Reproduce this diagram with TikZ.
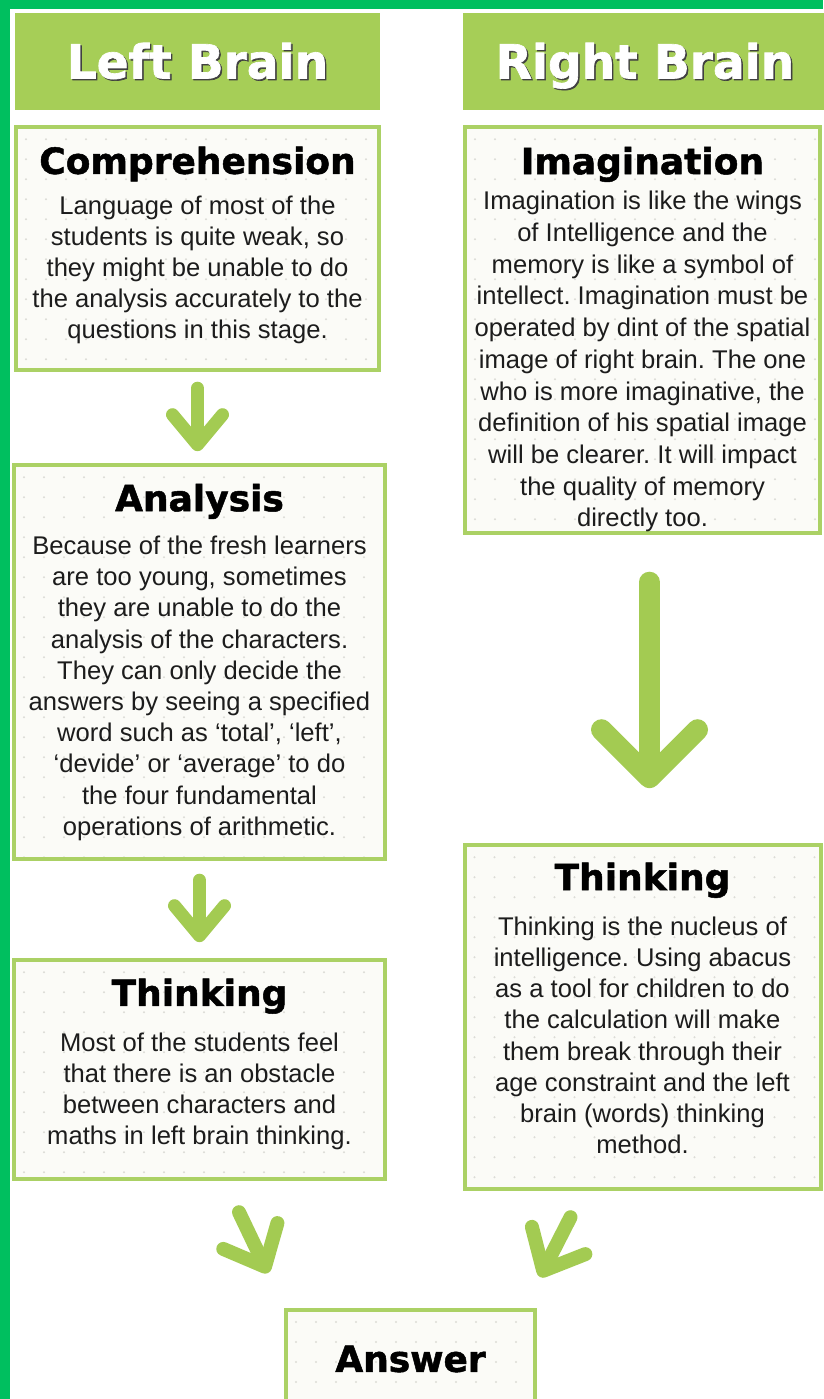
\documentclass[tikz,border=0pt]{standalone}
\usepackage{fontspec}
\usepackage{xcolor}
\setmainfont{Liberation Sans}
\newfontfamily\heavyfont{DejaVu Sans}[BoldFeatures={FakeBold=1.4}]
\usetikzlibrary{arrows.meta, positioning}

\definecolor{framegreen}{HTML}{00BF5F}
\definecolor{headgreen}{HTML}{A6CE57}
\definecolor{boxgreen}{HTML}{ABD165}
\definecolor{arrowgreen}{HTML}{A3CB52}
\definecolor{paper}{HTML}{FBFBF7}
\definecolor{dotgray}{HTML}{DCDCD6}
\definecolor{ink}{HTML}{1C1C1C}

% #1 = extra height above the title (pushes the text block down)
\newcommand{\stagetitle}[2][0pt]{{\heavyfont\bfseries\fontsize{36}{40}\selectfont\color{black}\rule{0pt}{#1}#2}}
% extra depth below the last line (pushes the text block up)
\newcommand{\stagetail}[1]{\rule[-#1]{0pt}{0pt}}
\newcommand{\brainlabel}[1]{\makebox[0pt][l]{\hspace{1.5pt}\raisebox{-1.5pt}{\color{black!75}#1}}#1}

\tikzstyle{header} = [rectangle, minimum height=97pt, inner sep=0pt, text height=34pt, text depth=0pt, fill=headgreen, text=white, font=\heavyfont\bfseries\fontsize{47}{50}\selectfont]
\tikzstyle{stage} = [rectangle, draw=boxgreen, line width=4pt, fill=paper, inner sep=0pt, align=center, text=ink, font=\fontsize{25.6}{31.2}\selectfont,
    path picture={\foreach \i in {0,...,18} \foreach \j in {0,...,20} \fill[dotgray] ([shift={(10pt+\i*20pt,-12pt-\j*20pt)}]path picture bounding box.north west) circle (1.1pt);}]
\tikzstyle{arrow} = [draw=arrowgreen, line width=13pt, line cap=round, -{Straight Barb[length=30pt, width=50pt, round]}]

\begin{document}
\frenchspacing
\begin{tikzpicture}

\useasboundingbox (0,0) rectangle (823pt,-1399pt);
\fill[white] (0,0) rectangle (823pt,-1399pt);
\fill[framegreen] (0,0) rectangle (823pt,-9pt);
\fill[framegreen] (0,0) rectangle (10pt,-1399pt);

% Left brain
\node (leftbrain) [header, minimum width=365pt] at (197.5pt,-61.5pt) {\brainlabel{Left Brain}};
\node (comprehension) [stage, minimum width=363pt, minimum height=243pt, below=15pt of leftbrain] {
    \stagetitle{Comprehension}\\[9pt]
    Language of most of the\\
    students is quite weak, so\\
    they might be unable to do\\
    the analysis accurately to the\\
    questions in this stage.\stagetail{12pt}
};
\node (analysis) [stage, minimum width=371pt, minimum height=394pt, below=91pt of comprehension, xshift=2pt] {
    \stagetitle{Analysis}\\[12pt]
    Because of the fresh learners\\
    are too young, sometimes\\
    they are unable to do the\\
    analysis of the characters.\\
    They can only decide the\\
    answers by seeing a specified\\
    word such as `total', `left',\\
    `devide' or `average' to do\\
    the four fundamental\\
    operations of arithmetic.\stagetail{4pt}
};
\node (thinkleft) [stage, minimum width=371pt, minimum height=219pt, below=97pt of analysis] {
    \stagetitle{Thinking}\\[14pt]
    Most of the students feel\\
    that there is an obstacle\\
    between characters and\\
    maths in left brain thinking.\stagetail{16pt}
};

% Right brain
\node (rightbrain) [header, minimum width=364pt] at (645pt,-61.5pt) {\brainlabel{Right Brain}};
\node (imagination) [stage, minimum width=355pt, minimum height=406pt, below=15pt of rightbrain, xshift=-2.5pt, font=\fontsize{25.6}{31.7}\selectfont] {
    \stagetitle[46pt]{Imagination}\\[4pt]
    Imagination is like the wings\\
    of Intelligence and the\\
    memory is like a symbol of\\
    intellect. Imagination must be\\
    operated by dint of the spatial\\
    image of right brain. The one\\
    who is more imaginative, the\\
    definition of his spatial image\\
    will be clearer. It will impact\\
    the quality of memory\\
    directly too.
};
\node (thinkright) [stage, minimum width=356pt, minimum height=344pt, below=308pt of imagination] {
    \stagetitle{Thinking}\\[14pt]
    Thinking is the nucleus of\\
    intelligence. Using abacus\\
    as a tool for children to do\\
    the calculation will make\\
    them break through their\\
    age constraint and the left\\
    brain (words) thinking\\
    method.\stagetail{18pt}
};

% Result
\node (answer) [stage, minimum width=249pt, minimum height=98pt, anchor=north] at (410.5pt,-1308pt) {\stagetitle{Answer}};

% Arrows
\draw[arrow, shorten <=16pt, shorten >=12pt] (comprehension.south) -- (comprehension.south |- analysis.north);
\draw[arrow, shorten <=19pt, shorten >=16pt] (analysis.south) -- (thinkleft.north);
\draw[arrow, line width=21pt, -{Straight Barb[length=48pt, width=96pt, round]}, shorten <=47pt, shorten >=55pt] ([xshift=7pt]imagination.south) -- ([xshift=7pt]thinkright.north);
\draw[arrow, line width=14pt, -{Straight Barb[length=34pt, width=60pt, round]}] ([xshift=39.5pt, yshift=-31pt]thinkleft.south) -- ([xshift=-142.5pt, yshift=35pt]answer.north);
\draw[arrow, line width=14pt, -{Straight Barb[length=34pt, width=60pt, round]}] ([xshift=-72pt, yshift=-26pt]thinkright.south) -- ([xshift=129.5pt, yshift=31pt]answer.north);

\end{tikzpicture}
\end{document}
